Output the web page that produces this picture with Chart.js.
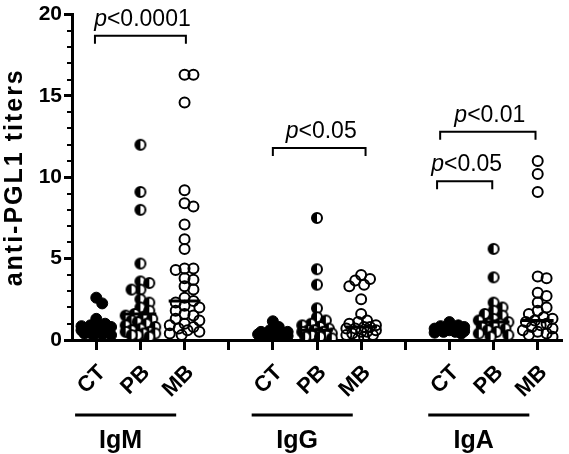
<!DOCTYPE html>
<html>
<head>
<meta charset="utf-8">
<script src="https://cdn.jsdelivr.net/npm/chart.js@4.4.1/dist/chart.umd.min.js"></script>
<style>
  html, body { margin: 0; padding: 0; background: #fff; }
  #wrap { width: 569px; height: 454px; }
</style>
</head>
<body>
<div id="wrap"><canvas id="chart"></canvas></div>
<script>
// categories on the x axis (gaps at 4 and 8 separate the groups)
const groups = ['IgM', 'IgG', 'IgA'];
const groupCenters = [2, 6, 10];
const categoryPositions = [1, 2, 3, 5, 6, 7, 9, 10, 11];
const categoryLabels = ['CT', 'PB', 'MB', 'CT', 'PB', 'MB', 'CT', 'PB', 'MB'];
const yTitle = 'anti-PGL1 titers';

// titers
const igmCT = [2.6, 2.25, 1.3, 1.0, 0.9, 0.85, 0.8, 0.8, 0.75, 0.7, 0.7, 0.6, 0.6, 0.5, 0.5, 0.45, 0.4, 0.35, 0.3, 0.3];
const igmPB = [12.0, 9.1, 8.0, 4.7, 3.6, 3.5, 3.1, 3.1, 2.5, 2.3, 2.0, 1.8, 1.6, 1.5, 1.4, 1.3, 1.2, 1.1, 1.0, 0.9, 0.8, 0.7, 0.6, 0.5, 0.5, 0.4, 0.4, 0.3, 0.3, 0.2];
const igmMB = [16.3, 16.3, 14.6, 9.2, 8.4, 8.2, 7.1, 6.2, 5.6, 4.4, 4.4, 4.3, 3.8, 3.7, 3.3, 3.1, 2.6, 2.4, 2.3, 2.1, 2.0, 1.8, 1.6, 1.5, 1.3, 1.2, 1.0, 0.9, 0.8, 0.7, 0.6, 0.5, 0.4, 0.3];
const iggCT = [1.15, 0.8, 0.6, 0.5, 0.5, 0.45, 0.4, 0.4, 0.35, 0.3, 0.3, 0.25, 0.2, 0.2, 0.15];
const iggPB = [7.5, 4.35, 3.4, 1.95, 1.4, 1.2, 1.0, 0.9, 0.8, 0.7, 0.6, 0.6, 0.5, 0.5, 0.4, 0.4, 0.3, 0.3, 0.2, 0.2, 0.1];
const iggMB = [4.0, 3.75, 3.65, 3.4, 3.3, 2.5, 1.6, 1.2, 1.1, 1.0, 0.9, 0.8, 0.8, 0.7, 0.7, 0.6, 0.5, 0.5, 0.4, 0.3, 0.3, 0.2, 0.1];
const igaCT = [1.1, 0.9, 0.85, 0.8, 0.75, 0.7, 0.7, 0.65, 0.6, 0.6, 0.55, 0.5, 0.5, 0.45, 0.4];
const igaPB = [5.6, 3.85, 2.3, 2.0, 1.8, 1.6, 1.5, 1.3, 1.2, 1.1, 1.0, 1.0, 0.9, 0.8, 0.7, 0.6, 0.5, 0.4, 0.3, 0.2];
const igaMB = [11.0, 10.2, 9.1, 3.9, 3.8, 2.9, 2.7, 2.3, 2.0, 1.8, 1.6, 1.4, 1.3, 1.2, 1.1, 1.0, 0.9, 0.8, 0.7, 0.6, 0.5, 0.4, 0.3, 0.2];
const medians = [0.85, 1.6, 2.4, 0.45, 0.6, 0.8, 0.75, 1.1, 1.2];

// significance brackets
const bracketFrom = [0.97, 5.0, 8.79, 8.72];
const bracketTo = [3.03, 7.1, 10.95, 9.97];
const bracketLevel = [18.7, 11.8, 12.8, 9.75];
const bracketText = ['<0.0001', '<0.05', '<0.01', '<0.05'];

const FONT = '"Liberation Sans", Arial, sans-serif';

// spread overlapping points sideways, but keep each column narrow like the reference
const PX_X = 44.8, PX_Y = 16.4, MIN_DIST = 8, STEP = 3, MAX_DX = 15;
function swarm(values, center) {
  const placed = [];
  return [...values].sort((a, b) => b - a).map(v => {
    const py = v * PX_Y;
    let best = 0, bestGap = -1;
    for (let k = 0; ; k++) {
      const cand = (k % 2 ? 1 : -1) * Math.ceil(k / 2) * STEP;
      if (Math.abs(cand) > MAX_DX) break;
      const gap = placed.length ? Math.min(...placed.map(p => Math.hypot(p.dx - cand, p.py - py))) : Infinity;
      if (gap >= MIN_DIST) { best = cand; break; }
      if (gap > bestGap) { bestGap = gap; best = cand; }
    }
    placed.push({ dx: best, py });
    return { x: center + best / PX_X, y: v };
  });
}

// half filled marker for PB
function halfMarker() {
  const c = document.createElement('canvas');
  c.width = 14; c.height = 14;
  const g = c.getContext('2d');
  g.beginPath(); g.arc(7, 7, 5, 0, Math.PI * 2); g.fillStyle = '#fff'; g.fill();
  g.beginPath(); g.moveTo(7, 7); g.arc(7, 7, 5, Math.PI / 2, Math.PI * 1.5); g.closePath(); g.fillStyle = '#000'; g.fill();
  g.beginPath(); g.arc(7, 7, 5, 0, Math.PI * 2); g.lineWidth = 2; g.strokeStyle = '#000'; g.stroke();
  return c;
}

const ctPoints = [...swarm(igmCT, 1), ...swarm(iggCT, 5), ...swarm(igaCT, 9)];
const pbPoints = [...swarm(igmPB, 2), ...swarm(iggPB, 6), ...swarm(igaPB, 10)];
const mbPoints = [...swarm(igmMB, 3), ...swarm(iggMB, 7), ...swarm(igaMB, 11)];

const medianLines = [];
categoryPositions.forEach((c, i) => {
  medianLines.push({ x: c - 0.36, y: medians[i] }, { x: c + 0.36, y: medians[i] }, { x: c, y: null });
});

// brackets, minor ticks, y title and group labels
const annotate = {
  id: 'annotate',
  afterDraw(chart) {
    const { ctx, scales: { x, y }, chartArea } = chart;
    ctx.save();
    ctx.strokeStyle = '#000';
    ctx.fillStyle = '#000';

    // minor ticks on y
    ctx.lineWidth = 2;
    for (let v = 1; v < 20; v++) {
      if (v % 5 === 0) continue;
      const py = Math.round(y.getPixelForValue(v));
      ctx.beginPath(); ctx.moveTo(chartArea.left - 5, py); ctx.lineTo(chartArea.left, py); ctx.stroke();
    }

    // y title, spaced out like the reference
    ctx.save();
    ctx.translate(15, (chartArea.top + chartArea.bottom) / 2);
    ctx.rotate(-Math.PI / 2);
    ctx.font = 'bold 25px ' + FONT;
    ctx.letterSpacing = '2px';
    ctx.textAlign = 'center';
    ctx.textBaseline = 'middle';
    ctx.fillText(yTitle, 0, 0);
    ctx.restore();

    // brackets
    ctx.lineWidth = 2;
    bracketText.forEach((t, i) => {
      const x1 = x.getPixelForValue(bracketFrom[i]);
      const x2 = x.getPixelForValue(bracketTo[i]);
      const py = y.getPixelForValue(bracketLevel[i]);
      ctx.beginPath();
      ctx.moveTo(x1, py + 8); ctx.lineTo(x1, py); ctx.lineTo(x2, py); ctx.lineTo(x2, py + 8);
      ctx.stroke();
      ctx.font = 'italic 23px ' + FONT;
      const wp = ctx.measureText('p').width;
      ctx.font = '23px ' + FONT;
      const wr = ctx.measureText(t).width;
      const start = (x1 + x2) / 2 - (wp + wr) / 2 + 2;
      ctx.textBaseline = 'alphabetic';
      ctx.textAlign = 'left';
      ctx.font = 'italic 23px ' + FONT;
      ctx.fillText('p', start, py - 10);
      ctx.font = '23px ' + FONT;
      ctx.fillText(t, start + wp, py - 10);
    });

    // group underline and names
    ctx.lineWidth = 3;
    ctx.textAlign = 'center';
    ctx.font = 'bold 25px ' + FONT;
    groups.forEach((name, i) => {
      const c = groupCenters[i];
      const ly = chartArea.bottom + 75;
      ctx.beginPath();
      ctx.moveTo(x.getPixelForValue(c - 1.48), ly);
      ctx.lineTo(x.getPixelForValue(c + 0.81), ly);
      ctx.stroke();
      ctx.fillText(name, x.getPixelForValue(c - 0.45), chartArea.bottom + 108);
    });
    ctx.restore();
  }
};

new Chart(document.getElementById('chart'), {
  type: 'scatter',
  data: {
    datasets: [
      {
        label: 'median',
        data: medianLines,
        showLine: true,
        spanGaps: false,
        borderColor: '#000',
        borderWidth: 3,
        pointRadius: 0,
        order: 0
      },
      {
        label: 'CT',
        data: ctPoints,
        pointStyle: 'circle',
        pointRadius: 5.5,
        pointBackgroundColor: '#000',
        pointBorderColor: '#000',
        pointBorderWidth: 1,
        order: 1
      },
      {
        label: 'PB',
        data: pbPoints,
        pointStyle: halfMarker(),
        order: 2
      },
      {
        label: 'MB',
        data: mbPoints,
        pointStyle: 'circle',
        pointRadius: 5,
        pointBackgroundColor: 'rgba(255,255,255,0)',
        pointBorderColor: '#000',
        pointBorderWidth: 2,
        order: 3
      }
    ]
  },
  options: {
    responsive: true,
    maintainAspectRatio: false,
    animation: false,
    layout: { padding: { top: 11, right: 0, left: 0, bottom: 0 } },
    plugins: { legend: { display: false }, tooltip: { enabled: false } },
    scales: {
      x: {
        type: 'linear',
        min: 0.45,
        max: 11.55,
        afterBuildTicks: axis => { axis.ticks = [1, 2, 3, 4, 5, 6, 7, 8, 9, 10, 11].map(v => ({ value: v })); },
        afterFit: s => { s.height = 114; s.paddingLeft = 0; s.paddingRight = 0; },
        ticks: {
          minRotation: 45,
          maxRotation: 45,
          padding: 10,
          labelOffset: 6,
          color: '#000',
          font: { family: FONT, size: 22, weight: 'bold' },
          callback: v => {
            const i = categoryPositions.indexOf(v);
            return i >= 0 ? categoryLabels[i] : '';
          }
        },
        grid: { drawOnChartArea: false, drawTicks: true, tickLength: 10, tickWidth: 3, tickColor: '#000' },
        border: { display: true, color: '#000', width: 3 }
      },
      y: {
        min: 0,
        max: 20,
        afterFit: s => { s.width = 72; },
        ticks: {
          stepSize: 5,
          padding: 2,
          color: '#000',
          font: { family: FONT, size: 21, weight: 'bold' }
        },
        grid: { drawOnChartArea: false, drawTicks: true, tickLength: 8, tickWidth: 3, tickColor: '#000' },
        border: { display: true, color: '#000', width: 3 },
        title: { display: false }
      }
    }
  },
  plugins: [annotate]
});
</script>
</body>
</html>
